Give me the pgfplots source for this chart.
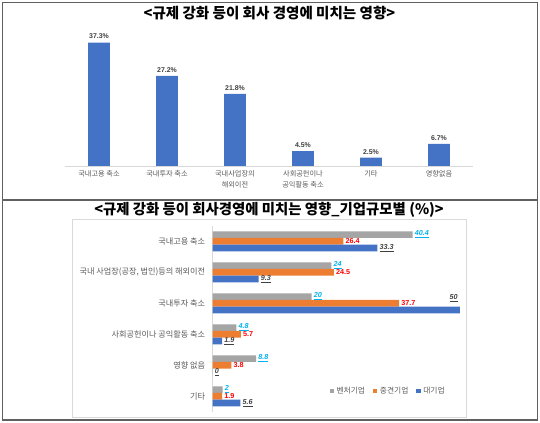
\documentclass[border=0pt]{standalone}
\usepackage{pgfplots}
\pgfplotsset{compat=1.18}
\usepackage{fontspec}
\setmainfont{Noto Sans CJK KR}
\newfontfamily\numfont{Liberation Sans}
\definecolor{cblue}{HTML}{4472C4}
\definecolor{corange}{HTML}{ED7D31}
\definecolor{cgray}{HTML}{A5A5A5}
\definecolor{lblgray}{HTML}{595959}
\definecolor{dgray}{HTML}{404040}
\definecolor{ccyan}{HTML}{00B0F0}
\definecolor{cred}{HTML}{FF0000}
\definecolor{framec}{HTML}{606060}
\definecolor{lightc}{HTML}{D9D9D9}

\pgfplotstableread{
x y
0 37.3
1 27.2
2 21.8
3 4.5
4 2.5
5 6.7
}\toptable

\pgfplotstableread{
x y
40.4 5
24 4
20 3
4.8 2
8.8 1
2 0
}\tabVenture

\pgfplotstableread{
x y
26.4 5
24.5 4
37.7 3
5.7 2
3.8 1
1.9 0
}\tabMid

\pgfplotstableread{
x y dx dy
33.3 5 0 0
9.3 4 0 0
50 3 -9.5 8.5
1.9 2 0 0
0 1 0 0
5.6 0 0 0
}\tabBig

\begin{document}
\begin{tikzpicture}
\path[use as bounding box] (0,0) rectangle (405pt,-317.25pt);
% frames
\draw[framec, line width=0.8pt] (1.875pt,-1.875pt) rectangle (403.125pt,-315pt);
\draw[framec, line width=0.8pt] (1.875pt,-150pt) -- (403.125pt,-150pt);
\draw[lightc, line width=0.4pt] (54.5pt,-164.25pt) rectangle (350pt,-312.75pt);

% titles
\node[font=\bfseries\fontsize{10.9}{12}\selectfont] at (202.1pt,-9.5pt) {<규제 강화 등이 회사 경영에 미치는 영향>};
\node[font=\bfseries\fontsize{10.8}{12}\selectfont] at (201.75pt,-157.5pt) {<규제 강화 등이 회사경영에 미치는 영향\_기업규모별 (\%)>};

% top chart
\begin{axis}[
  at={(48.75pt,-124.5pt)}, anchor=south west,
  scale only axis, width=306pt, height=99.3pt,
  xmin=-0.5, xmax=5.5, ymin=0, ymax=40,
  axis x line=bottom, axis y line=none,
  axis line style={draw=lightc,-},
  major tick length=0pt,
  xtick={0,...,5},
  xticklabels={국내고용 축소, 국내투자 축소, {국내사업장의\\해외이전}, {사회공헌이나\\공익활동 축소}, 기타, 영향없음},
  xticklabel style={align=center, text=lblgray, font=\fontsize{5.4}{8.2}\selectfont, inner sep=1pt, yshift=-2.5pt},
  ybar, bar width=16.3pt,
  clip=false,
  nodes near coords={\numfont\bfseries\pgfmathprintnumber[assume math mode=true,fixed,fixed zerofill,precision=1]{\pgfplotspointmeta}\%},
  every node near coord/.append style={text=dgray, font=\fontsize{5.2}{6}\selectfont, inner sep=1pt, yshift=1.5pt},
]
\addplot[fill=cblue, draw=none] table[x=x,y=y] {\toptable};
\end{axis}

% bottom chart
\begin{axis}[
  at={(159.5pt,-308.85pt)}, anchor=south west,
  scale only axis, width=185.5pt, height=139.5pt,
  xmin=0, xmax=50, ymin=-0.5, ymax=5.5,
  axis y line=left, axis x line=none,
  axis line style={draw=lightc,-},
  major tick length=0pt,
  ytick={0,...,5},
  yticklabels={기타, 영향 없음, 사회공헌이나 공익활동 축소, 국내투자 축소, {국내 사업장(공장, 법인)등의 해외이전}, 국내고용 축소},
  yticklabel style={text=lblgray, font=\fontsize{6.1}{7}\selectfont, inner sep=0pt, anchor=east, xshift=-5.5pt},
  xbar, bar width=5pt,
  nodes near coords align={horizontal},
  clip=false,
  legend image code/.code={\draw[#1,draw=none] (0pt,-1.6pt) rectangle (3.2pt,1.6pt);},
  legend style={at={(0.711,0.112)}, anchor=center, draw=none, fill=none,
    font=\fontsize{5.8}{7}\selectfont, text=lblgray,
    /tikz/every even column/.append style={column sep=4pt}},
  legend columns=3,
]
\addplot[fill=cgray, draw=none, bar shift=5pt,
  nodes near coords={\numfont\bfseries\itshape\underline{\pgfmathprintnumber[assume math mode=true]{\pgfplotspointmeta}}},
  every node near coord/.append style={text=ccyan, font=\fontsize{5.4}{6}\selectfont, inner sep=1.5pt},
  point meta=explicit] table[x=x,y=y,meta=x] {\tabVenture};
\addlegendentry{벤처기업}
\addplot[fill=corange, draw=none, bar shift=0pt,
  nodes near coords={\numfont\bfseries\pgfmathprintnumber[assume math mode=true]{\pgfplotspointmeta}},
  every node near coord/.append style={text=cred, font=\fontsize{5.4}{6}\selectfont, inner sep=1.5pt},
  point meta=explicit] table[x=x,y=y,meta=x] {\tabMid};
\addlegendentry{중견기업}
\addplot[fill=cblue, draw=none, bar shift=-5pt,
  visualization depends on={\thisrow{dx} \as \mydx},
  visualization depends on={\thisrow{dy} \as \mydy},
  nodes near coords={\numfont\bfseries\itshape\underline{\pgfmathprintnumber[assume math mode=true]{\pgfplotspointmeta}}},
  every node near coord/.append style={text=dgray, font=\fontsize{5.4}{6}\selectfont, inner sep=1.5pt, xshift=\mydx pt, yshift=\mydy pt},
  point meta=explicit] table[x=x,y=y,meta=x] {\tabBig};
\addlegendentry{대기업}
\end{axis}
\end{tikzpicture}
\end{document}
